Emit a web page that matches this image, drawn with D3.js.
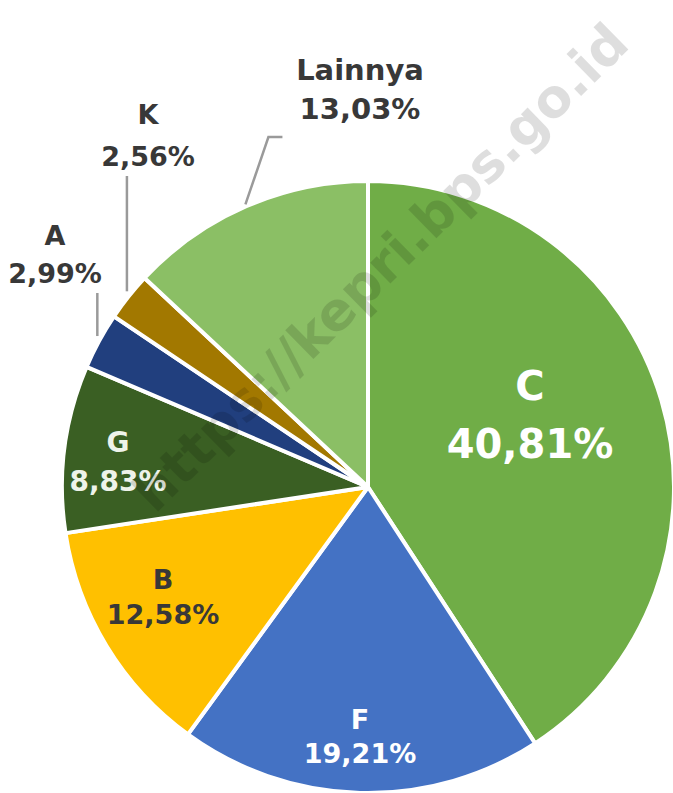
<!DOCTYPE html>
<html>
<head>
<meta charset="utf-8">
<script src="https://cdn.jsdelivr.net/npm/d3@7"></script>
<style>
  html, body { margin: 0; padding: 0; background: #fff; }
  svg { display: block; font-family: "DejaVu Sans", "Open Sans", sans-serif; }
</style>
</head>
<body>
<svg id="chart"></svg>
<script>
// data, clockwise from 12 o'clock
const categories = ["C", "F", "B", "G", "A", "K", "Lainnya"];
const shares = [40.81, 19.21, 12.58, 8.83, 2.99, 2.56, 13.03];
const shareLabels = ["40,81%", "19,21%", "12,58%", "8,83%", "2,99%", "2,56%", "13,03%"];

const colors = {
  C: "#70ad47", F: "#4472c4", B: "#ffc000", G: "#3a5f23",
  A: "#213f7e", K: "#a27800", Lainnya: "#8bbf65"
};

const width = 673, height = 793;
const cx = 368, cy = 487, radius = 306;

const svg = d3.select("#chart").attr("width", width).attr("height", height);

const pie = d3.pie().sort(null).value(d => d.value);
const arc = d3.arc().innerRadius(0).outerRadius(radius);

const data = categories.map((c, i) => ({ name: c, value: shares[i], label: shareLabels[i] }));
const arcs = pie(data);

const g = svg.append("g").attr("transform", `translate(${cx},${cy})`);

g.selectAll("path.slice")
  .data(arcs)
  .enter()
  .append("path")
  .attr("class", "slice")
  .attr("d", arc)
  .attr("fill", d => colors[d.data.name])
  .attr("stroke", "#fff")
  .attr("stroke-width", 4)
  .attr("stroke-linejoin", "round");

// label placement (relative to pie centre)
const labelPos = {
  C:       { x: 162,  y: -87,  fill: "#fff", size: 40, gap: 58 },
  F:       { x: -8,   y: 242,  fill: "#fff", size: 27, gap: 34 },
  B:       { x: -205, y: 102,  fill: "#383838", size: 27, gap: 35 },
  G:       { x: -250, y: -35,  fill: "#eef3ea", size: 28, gap: 39 },
  A:       { x: -313, y: -242, fill: "#383838", size: 27, gap: 38 },
  K:       { x: -220, y: -363, fill: "#383838", size: 27, gap: 42 },
  Lainnya: { x: -8,   y: -407, fill: "#383838", size: 29, gap: 39 }
};

const labels = g.selectAll("g.label")
  .data(arcs)
  .enter()
  .append("g")
  .attr("class", "label")
  .attr("transform", d => `translate(${labelPos[d.data.name].x},${labelPos[d.data.name].y})`);

labels.append("text")
  .attr("text-anchor", "middle")
  .attr("font-weight", 700)
  .attr("font-size", d => labelPos[d.data.name].size)
  .attr("fill", d => labelPos[d.data.name].fill)
  .text(d => d.data.name);

labels.append("text")
  .attr("text-anchor", "middle")
  .attr("font-weight", 700)
  .attr("y", d => labelPos[d.data.name].gap)
  .attr("font-size", d => labelPos[d.data.name].size)
  .attr("fill", d => labelPos[d.data.name].fill)
  .text(d => d.data.label);

// leader lines for the outside labels
const outside = arcs.filter(d => ["A", "K", "Lainnya"].includes(d.data.name));
const edge = d => {
  const a = (d.startAngle + d.endAngle) / 2;
  return [Math.sin(a) * (radius + 2), -Math.cos(a) * (radius + 2)];
};
g.selectAll("path.leader")
  .data(outside)
  .enter()
  .append("path")
  .attr("class", "leader")
  .attr("fill", "none")
  .attr("stroke", "#9a9a9a")
  .attr("stroke-width", 2.5)
  .attr("d", d => {
    const [x0, y0] = edge(d);
    const lp = labelPos[d.data.name];
    if (d.data.name === "Lainnya") {
      return d3.line()([[x0, y0], [x0 + 23, lp.y + 57], [x0 + 37, lp.y + 57]]);
    }
    return d3.line()([[x0, y0 - 4], [x0, lp.y + lp.gap + 10]]);
  });

// watermark
svg.append("text")
  .attr("transform", "translate(383,270) rotate(-44.5)")
  .attr("text-anchor", "middle")
  .attr("dominant-baseline", "middle")
  .attr("font-size", 53)
  .attr("font-weight", 700)
  .attr("fill", "#000")
  .attr("fill-opacity", 0.13)
  .text("https://kepri.bps.go.id");
</script>
</body>
</html>
